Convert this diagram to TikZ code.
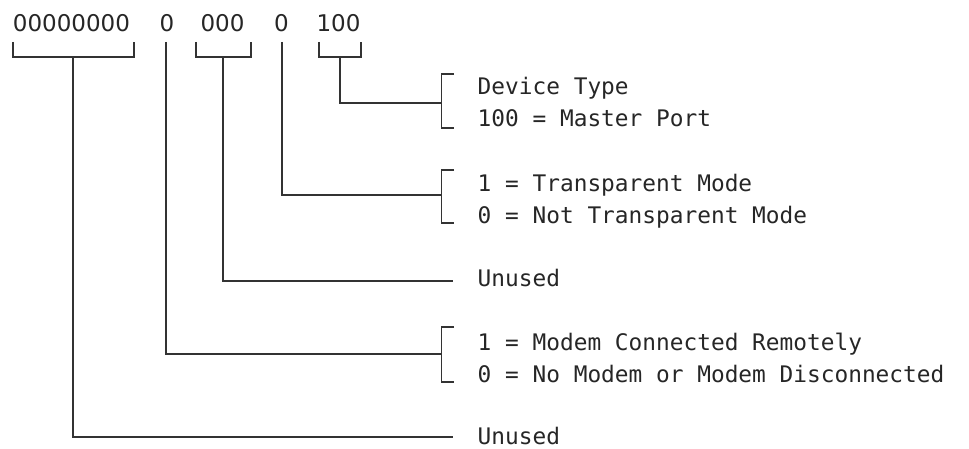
\documentclass[tikz,border=0pt]{standalone}
\usepackage{fontspec}
\setmainfont{DejaVu Sans}
\newfontfamily\labelfont{DejaVu Sans Mono}
\begin{document}
\begin{tikzpicture}[x=1pt,y=-1pt,
  bits/.style={font=\fontsize{23}{23}\selectfont, anchor=base, inner sep=0pt, text=black!85},
  lbl/.style={font=\labelfont\fontsize{22.8}{22.8}\selectfont, anchor=base west, inner sep=0pt, text=black!85},
  conn/.style={draw=black!80, line width=1.2pt},
  brk/.style={draw=black!80, line width=1.2pt}]
\useasboundingbox (0,0) rectangle (969,449);
% bit groups
\node[bits] (g1) at (71.5,32) {00000000};
\node[bits] (g2) at (167,32) {0};
\node[bits] (g3) at (222.5,32) {000};
\node[bits] (g4) at (281.5,32) {0};
\node[bits] (g5) at (338.5,32) {100};
% labels
\node[lbl] (d1) at (477.5,95) {Device Type};
\node[lbl] (d2) at (477.5,127) {100 = Master Port};
\node[lbl] (t1) at (477.5,192) {1 = Transparent Mode};
\node[lbl] (t2) at (477.5,223) {0 = Not Transparent Mode};
\node[lbl] (u1) at (477.5,286) {Unused};
\node[lbl] (m1) at (477.5,350) {1 = Modem Connected Remotely};
\node[lbl] (m2) at (477.5,382) {0 = No Modem or Modem Disconnected};
\node[lbl] (u2) at (477.5,444) {Unused};
% brackets under bit groups
\draw[brk] (13,42) -- (13,57) -- (134,57) -- (134,42);
\draw[brk] (196,42) -- (196,57) -- (251,57) -- (251,42);
\draw[brk] (319,42) -- (319,57) -- (361,57) -- (361,42);
\coordinate (s1) at (73,57);
\coordinate (s2) at (166,42);
\coordinate (s3) at (223,57);
\coordinate (s4) at (282,42);
\coordinate (s5) at (340,57);
% right brackets
\draw[brk] (454,74) -- (441.7,74) -- (441.7,128) -- (454,128);
\draw[brk] (454,170) -- (441.7,170) -- (441.7,223) -- (454,223);
\draw[brk] (454,327) -- (441.7,327) -- (441.7,382) -- (454,382);
\coordinate (e5) at (441.7,103);
\coordinate (e4) at (441.7,195);
\coordinate (e3) at (453,281);
\coordinate (e2) at (441.7,354);
\coordinate (e1) at (453,437);
% connectors
\draw[conn] (s5) |- (e5);
\draw[conn] (s4) |- (e4);
\draw[conn] (s3) |- (e3);
\draw[conn] (s2) |- (e2);
\draw[conn] (s1) |- (e1);
\end{tikzpicture}
\end{document}
